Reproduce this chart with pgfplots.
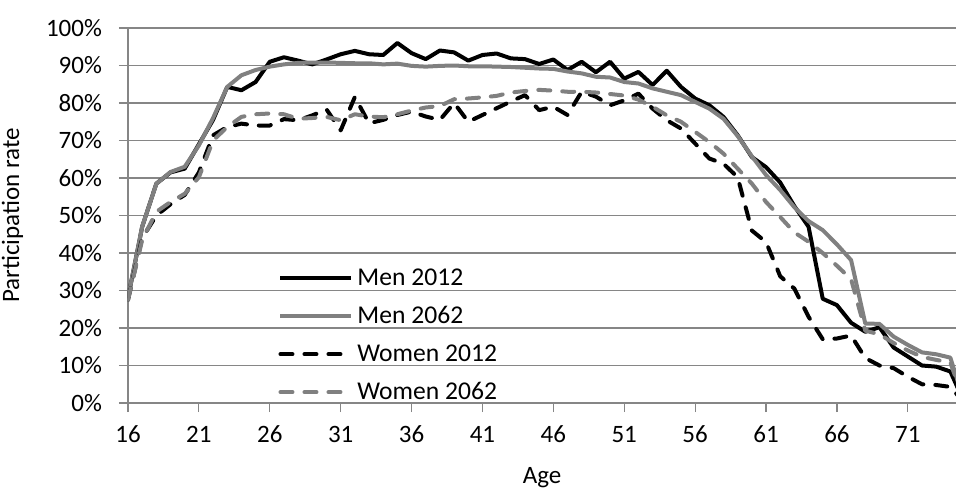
\documentclass[border=0pt]{standalone}
\usepackage{pgfplots}
\pgfplotsset{compat=1.18}
\usepackage{pgfplotstable}
\usepackage{fontspec}
\setmainfont{Carlito}

\definecolor{sergrey}{RGB}{128,128,128}
\definecolor{gridgrey}{RGB}{134,134,134}

% participation rates in percent, by age
\pgfplotstableread{
age m12  m62  w12  w62
16  28   28   27.5 27.5
17  47   47   44   43.5
18  58.5 58.5 50   51
19  61.5 61.6 53   53.6
20  62.5 63   55.5 55.8
21  69   68.7 61.5 60.2
22  75.5 76   71.4 70
23  84.3 84.3 73.6 73.6
24  83.4 87.4 74.5 76.3
25  85.6 88.8 74   77
26  91   89.7 74   77.2
27  92.2 90.3 75.7 77
28  91.3 90.7 75.4 75.8
29  90.3 90.8 76.7 76
30  91.6 90.8 78.3 76.3
31  93   90.7 72.7 75.4
32  93.9 90.6 81.6 77
33  93   90.6 74.6 76.4
34  92.8 90.3 75.5 76.2
35  96   90.5 76.8 77
36  93.3 89.9 77.7 78
37  91.7 89.7 76.4 78.8
38  94   89.9 75.5 79.2
39  93.5 90   80   81
40  91.3 89.8 75   81.2
41  92.8 89.8 76.8 81.5
42  93.2 89.7 78.6 81.9
43  91.9 89.6 80.4 82.8
44  91.7 89.4 82.1 83.2
45  90.4 89.2 78.1 83.5
46  91.6 89.1 79   83.3
47  88.8 88.4 76.8 83
48  91   87.9 83   83
49  88.2 87   81.7 82.8
50  91   86.8 79.4 82.4
51  86.5 85.6 80.7 82
52  88.3 85.2 82.5 80.9
53  84.8 83.9 78.5 79
54  88.6 83   75.4 76.7
55  84.3 82.1 73.2 75
56  81.2 80.3 69.2 72.3
57  79.4 78.5 65.2 69.6
58  76.3 75.8 63.8 66.5
59  71.4 71.2 60.2 62.5
60  65.6 65.8 46   58.5
61  62.9 60.8 42.9 53.6
62  58.8 56.8 33.8 49.6
63  52.5 52.2 30.5 45.5
64  47   48.5 23   43
65  27.8 46.1 17   40
66  26.1 42.3 17.2 36.6
67  21.4 38.1 18   33
68  19   21.2 12   19.3
69  20.2 21.1 10   18.3
70  14.8 17.7 9.3  16
71  12.4 15.5 7    14
72  10   13.5 5    12.3
73  9.7  13   4.8  11.5
74  8.4  12.1 4.3  10.8
75  0    0    0    0
}\rates

\begin{document}
\begin{tikzpicture}
\useasboundingbox (-64pt,-42.5pt) rectangle (414pt,201.5pt);
\begin{axis}[
    scale only axis,
    width=414pt, height=187.5pt,
    xmin=16, xmax=74.4,
    ymin=0, ymax=100,
    axis x line*=bottom, axis y line*=left,
    axis line style={gridgrey, line width=0.6pt},
    xtick={16,21,...,71},
    ytick={0,10,...,100},
    tick align=outside,
    major tick length=4.5pt,
    tick style={gridgrey, line width=0.6pt},
    ymajorgrids,
    grid style={gridgrey, line width=0.6pt},
    font=\fontsize{12.5}{15}\selectfont,
    /pgf/number format/assume math mode=true,
    yticklabel={\pgfmathprintnumber{\tick}\%},
    yticklabel style={xshift=-5pt},
    xticklabel style={yshift=-3.5pt},
    xlabel={Age},
    ylabel={Participation rate},
    xlabel style={at={(axis description cs:0.5,-0.2)}, anchor=center},
    ylabel style={at={(axis description cs:-0.1395,0.5)}, anchor=center},
    legend style={at={(0.174,0.381)}, anchor=north west, draw=none, fill=none,
        row sep=5pt, font=\fontsize{12.8}{15}\selectfont},
    legend cell align=left,
    legend image code/.code={\draw[#1] (0pt,0pt) -- (35.5pt,0pt);},
    every axis plot/.append style={line width=2pt, line join=round},
]
\addplot[black] table[x=age, y=m12] {\rates};
\addlegendentry{Men 2012}
\addplot[sergrey] table[x=age, y=m62] {\rates};
\addlegendentry{Men 2062}
\addplot[black, line cap=round, dash pattern=on 6pt off 6pt] table[x=age, y=w12] {\rates};
\addlegendentry{Women 2012}
\addplot[sergrey, line cap=round, dash pattern=on 6pt off 6pt] table[x=age, y=w62] {\rates};
\addlegendentry{Women 2062}
\end{axis}
\end{tikzpicture}
\end{document}
